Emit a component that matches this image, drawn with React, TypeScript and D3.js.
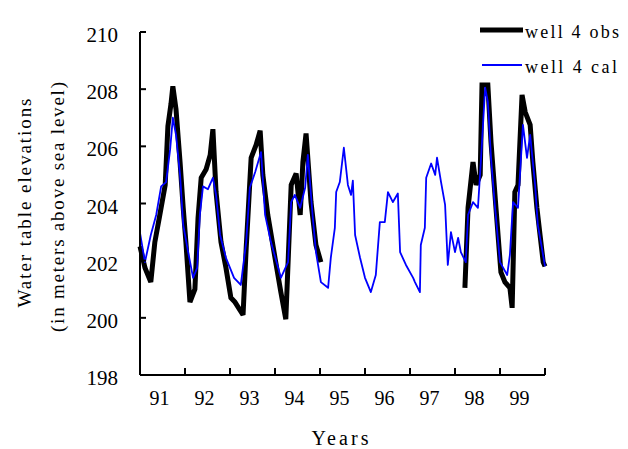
import React from "react";
import * as d3 from "d3";

const yTicks = [198, 200, 202, 204, 206, 208, 210];
const yearTicks = [91, 92, 93, 94, 95, 96, 97, 98, 99, 100];
const yearLabels = ["91", "92", "93", "94", "95", "96", "97", "98", "99"];

// well 4 calculated (decimal year, elevation m)
const calT = [
  91.0, 91.11, 91.24, 91.36, 91.47, 91.58, 91.67, 91.73, 91.8, 91.89, 91.96, 92.07, 92.18, 92.27, 92.33, 92.4,
  92.51, 92.62, 92.69, 92.78, 92.91, 93.09, 93.24, 93.36, 93.44, 93.56, 93.69, 93.78, 93.91, 94.07, 94.13, 94.29,
  94.36, 94.44, 94.56, 94.67, 94.73, 94.84, 94.91, 95.02, 95.18, 95.24, 95.33, 95.36, 95.44, 95.53, 95.62, 95.69,
  95.73, 95.78, 95.89, 96.0, 96.13, 96.24, 96.33, 96.44, 96.51, 96.62, 96.73, 96.78, 96.91, 97.07, 97.11, 97.22,
  97.24, 97.33, 97.36, 97.47, 97.56, 97.6, 97.69, 97.78, 97.84, 97.91, 98.0, 98.07, 98.13, 98.24, 98.29, 98.4,
  98.51, 98.58, 98.67, 98.73, 98.8, 98.89, 99.0, 99.16, 99.22, 99.29, 99.4, 99.51, 99.6, 99.67, 99.78, 99.84,
  99.93, 100.0,
];
const calV = [
  202.97, 201.95, 202.9, 203.6, 204.6, 204.75, 205.9, 207.0, 206.4, 205.0, 203.25, 202.3, 201.4, 201.75, 203.6, 204.6,
  204.5, 204.9, 204.3, 202.9, 202.1, 201.4, 201.15, 202.65, 204.55, 205.1, 205.8, 203.6, 202.65, 201.75, 201.4, 201.95,
  204.05, 204.3, 203.85, 204.55, 205.7, 203.5, 202.3, 201.25, 201.05, 202.1, 203.15, 204.4, 204.75, 205.95, 204.65, 204.3,
  204.8, 202.9, 202.1, 201.4, 200.9, 201.5, 203.35, 203.35, 204.4, 204.05, 204.35, 202.3, 201.85, 201.4, 201.25, 200.9,
  202.55, 203.15, 204.9, 205.4, 205.0, 205.6, 204.75, 203.95, 201.85, 203.0, 202.3, 202.8, 202.3, 201.95, 203.6, 204.05,
  203.85, 205.6, 208.05, 207.55, 205.6, 203.85, 201.95, 201.5, 202.2, 204.05, 203.85, 206.75, 205.6, 206.4, 204.65, 203.25,
  202.45, 201.8,
];

// well 4 observed, first period 1991-1994
const obsT1 = [
  91.0, 91.11, 91.24, 91.33, 91.44, 91.56, 91.62, 91.69, 91.73, 91.8, 91.89, 91.96, 92.02, 92.11, 92.22, 92.29,
  92.36, 92.47, 92.56, 92.62, 92.69, 92.8, 92.91, 93.02, 93.11, 93.29, 93.36, 93.47, 93.58, 93.67, 93.73, 93.84,
  94.0, 94.13, 94.24, 94.36, 94.47, 94.56, 94.62, 94.69, 94.8, 94.91, 95.02,
];
const obsV1 = [
  202.5, 201.75, 201.25, 202.65, 203.6, 204.65, 206.7, 207.5, 208.1, 207.3, 205.45, 203.85, 202.65, 200.55, 201.0, 203.5,
  204.9, 205.2, 205.7, 206.6, 204.4, 202.65, 201.75, 200.7, 200.55, 200.1, 202.45, 205.6, 206.05, 206.55, 205.0, 203.6,
  202.1, 200.9, 199.95, 204.65, 205.05, 203.6, 205.45, 206.45, 204.05, 202.55, 201.95,
];
// well 4 observed, second period 1998-1999
const obsT2 = [
  98.22, 98.29, 98.4, 98.47, 98.56, 98.6, 98.73, 98.8, 98.91, 99.02, 99.11, 99.22, 99.27, 99.33, 99.4, 99.49,
  99.56, 99.67, 99.73, 99.82, 99.89, 99.96, 100.0,
];
const obsV2 = [
  201.05, 203.85, 205.45, 204.65, 205.0, 208.15, 208.15, 206.15, 203.85, 201.6, 201.25, 201.05, 200.35, 204.4, 204.65, 207.8,
  207.2, 206.75, 205.45, 203.85, 202.9, 201.95, 201.8,
];

const FONT = "'Liberation Serif', 'Times New Roman', 'DejaVu Serif', serif";

export default function App() {
  const W = 628;
  const H = 449;
  const x = d3.scaleLinear().domain([91, 100]).range([140, 545]);
  const y = d3.scaleLinear().domain([198, 210]).range([375, 32]);

  const line = d3
    .line<[number, number]>()
    .x((d) => x(d[0]))
    .y((d) => y(d[1]))
    .curve(d3.curveLinear);

  const cal = calT.map((t, i) => [t, calV[i]] as [number, number]);
  const obs1 = obsT1.map((t, i) => [t, obsV1[i]] as [number, number]);
  const obs2 = obsT2.map((t, i) => [t, obsV2[i]] as [number, number]);

  const x0 = x(91);
  const x1 = x(100);
  const yb = y(198);
  const yt = y(210);
  const ts = { fontFamily: FONT };

  return (
    <svg
      width={W}
      height={H}
      style={{ position: "absolute", left: 0, top: 0, background: "#fff" }}
    >
      <rect x={0} y={0} width={W} height={H} fill="#fff" />
      {/* data */}
      <path d={line(obs1) || ""} fill="none" stroke="#000" strokeWidth={5} strokeLinejoin="miter" strokeMiterlimit={2} />
      <path d={line(obs2) || ""} fill="none" stroke="#000" strokeWidth={5} strokeLinejoin="miter" strokeMiterlimit={2} />
      <path d={line(cal) || ""} fill="none" stroke="#0000ff" strokeWidth={1.8} strokeLinejoin="round" />

      {/* axes */}
      <line x1={x0} x2={x0} y1={yt} y2={yb} stroke="#000" strokeWidth={2} />
      <line x1={x0} x2={x1} y1={yb} y2={yb} stroke="#000" strokeWidth={2} />
      {yTicks.map((v) => (
        <g key={"y" + v}>
          <line x1={x0} x2={x0 + 6} y1={y(v)} y2={y(v)} stroke="#000" strokeWidth={2} />
          <text x={118} y={y(v) + 10} textAnchor="end" fontSize={21} fill="#000" style={ts}>
            {v}
          </text>
        </g>
      ))}
      {yearTicks.map((v) => (
        <line key={"x" + v} x1={x(v)} x2={x(v)} y1={yb} y2={yb - 7} stroke="#000" strokeWidth={2} />
      ))}
      {yearLabels.map((s, i) => (
        <text key={s} x={x(91 + i + 0.5) - 3} y={405} textAnchor="middle" fontSize={20} fill="#000" style={ts}>
          {s}
        </text>
      ))}

      {/* axis titles */}
      <text x={340} y={445} textAnchor="middle" fontSize={20} fill="#000" style={ts} textLength={57} lengthAdjust="spacing">
        Years
      </text>
      <text
        transform={`translate(31,203) rotate(-90)`}
        textAnchor="middle"
        fontSize={19}
        fill="#000"
        style={ts}
        textLength={209}
        lengthAdjust="spacing"
      >
        Water table elevations
      </text>
      <text
        transform={`translate(64,207) rotate(-90)`}
        textAnchor="middle"
        fontSize={19}
        fill="#000"
        style={ts}
        textLength={250}
        lengthAdjust="spacing"
      >
        (in meters above sea level)
      </text>

      {/* legend */}
      <line x1={480} x2={523} y1={30} y2={30} stroke="#000" strokeWidth={5} />
      <text x={525} y={38} fontSize={18} fill="#000" style={ts} textLength={94} lengthAdjust="spacing">
        well 4 obs
      </text>
      <line x1={482} x2={522} y1={65} y2={65} stroke="#0000ff" strokeWidth={1.8} />
      <text x={525} y={73} fontSize={18} fill="#000" style={ts} textLength={92} lengthAdjust="spacing">
        well 4 cal
      </text>
    </svg>
  );
}
